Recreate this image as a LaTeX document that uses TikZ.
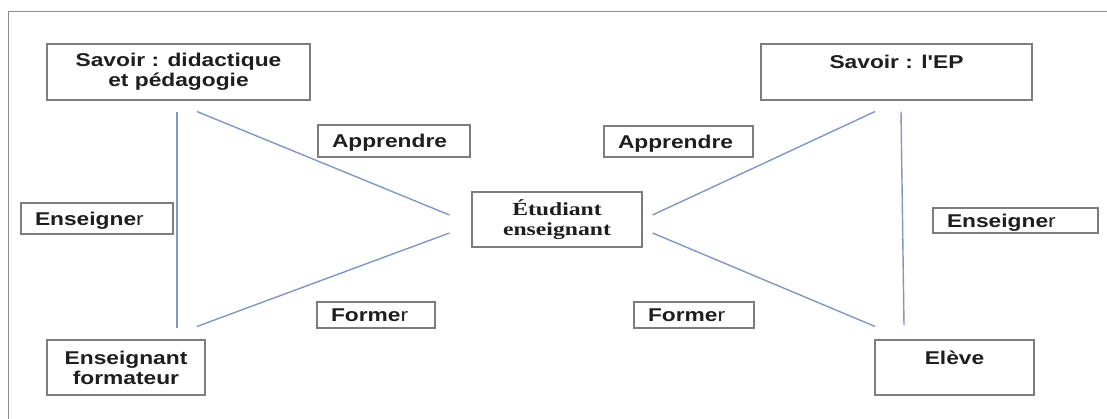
\documentclass[tikz,border=0pt]{standalone}
\usepackage{fontspec}
\newfontfamily\sansf[FakeStretch=1.23]{Liberation Sans}
\newfontfamily\seriff[FakeStretch=1.28]{Liberation Serif}
\usetikzlibrary{calc}
\definecolor{boxgray}{RGB}{125,125,125}
\definecolor{framegray}{RGB}{140,140,140}
\definecolor{linkblue}{RGB}{128,152,194}
\definecolor{txt}{RGB}{30,30,30}
\tikzset{
  bigbox/.style={draw=boxgray, line width=1.1pt, fill=white, inner sep=0pt,
    align=center, text=txt, font=\sansf\fontsize{18.5}{20}\selectfont\bfseries},
  tagbox/.style={draw=boxgray, line width=1.1pt, fill=white, inner xsep=0pt, inner ysep=0pt,
    align=left, text=txt, text height=13.2pt, text depth=0pt,
    font=\sansf\fontsize{18.5}{20}\selectfont\bfseries},
  conn/.style={draw=linkblue, line width=1.4pt},
  frameline/.style={draw=framegray, line width=1pt}
}
\newcommand{\lr}{{\mdseries r}}
\begin{document}
\begin{tikzpicture}[x=1pt,y=-1pt]
\useasboundingbox[fill=white] (0,0) rectangle (1107,419);
\draw[frameline] (8,419) -- (8,12) -- (1107,12);

% main boxes
\node[bigbox, minimum width=263pt, minimum height=56pt] (sd) at (178.5,72) {Savoir : didactique\\et pédagogie};
\node[bigbox, minimum width=271pt, minimum height=56pt] (sep) at (896.5,72) {Savoir : l'EP\\\mbox{}};
\node[bigbox, minimum width=170pt, minimum height=55pt, font=\seriff\fontsize{18.5}{20}\selectfont\bfseries] (et) at (557,219.5) {Étudiant\\enseignant};
\node[bigbox, minimum width=158pt, minimum height=55pt] (ef) at (126,367.5) {Enseignant\\formateur};
\node[bigbox, minimum width=159pt, minimum height=55pt] (el) at (954.5,367.5) {Elève\\\mbox{}};

% tag boxes
\node[tagbox, minimum height=32pt, text width=124pt, inner xsep=14pt] (appL) at (394,141) {Apprendre};
\node[tagbox, minimum height=31pt, text width=121pt, inner xsep=14pt] (appR) at (678.5,141.5) {Apprendre};
\node[tagbox, minimum height=31pt, text width=124pt, inner xsep=14pt] (ensL) at (97,218.5) {Enseigne\lr};
\node[tagbox, minimum height=25pt, text width=137pt, inner xsep=14pt] (ensR) at (1015.5,220.5) {Enseigne\lr};
\node[tagbox, minimum height=26pt, text width=90pt, inner xsep=14pt] (forL) at (376,315) {Forme\lr};
\node[tagbox, minimum height=26pt, text width=92pt, inner xsep=14pt] (forR) at (694,315) {Forme\lr};

% connector end points relative to nodes
\coordinate (l1) at ($(sd.south)+(-1.5,11)$);
\coordinate (l2) at ($(ef.north)+(51,-11)$);
\coordinate (d1) at ($(sd.south)+(18.5,11)$);
\coordinate (d2) at ($(et.west)+(-22,-4.5)$);
\coordinate (d3) at ($(et.west)+(-22,13.5)$);
\coordinate (d4) at ($(ef.north)+(71,-13)$);
\coordinate (r1) at ($(et.east)+(10,-4.5)$);
\coordinate (r2) at ($(sep.south)+(-21.5,11)$);
\coordinate (r3) at ($(et.east)+(10,13.5)$);
\coordinate (r4) at ($(el.north)+(-79.5,-13)$);
\coordinate (v1) at ($(sep.south)+(4.5,11)$);
\coordinate (v2) at ($(el.north)+(-50.5,-14)$);

\draw[conn] (l1) -- (l2);
\draw[conn] (d1) -- (d2);
\draw[conn] (d3) -- (d4);
\draw[conn] (r1) -- (r2);
\draw[conn] (r3) -- (r4);
\draw[conn] (v1) -- (v2);
\end{tikzpicture}
\end{document}
